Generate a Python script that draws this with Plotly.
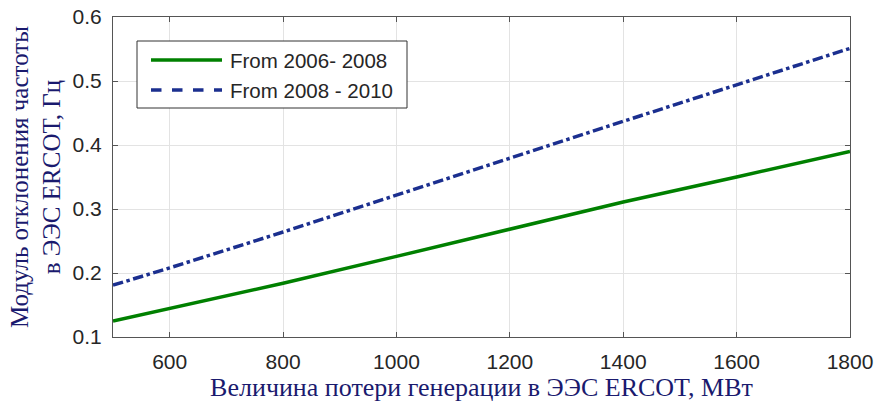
import plotly.graph_objects as go

x_vals = [500, 600, 800, 1000, 1200, 1400, 1600, 1800]
y_2006_2008 = [0.125, 0.145, 0.184, 0.226, 0.269, 0.311, 0.350, 0.390]
y_2008_2010 = [0.181, 0.208, 0.264, 0.322, 0.380, 0.437, 0.494, 0.551]
names = ["From 2006- 2008", "From 2008 - 2010"]
x_ticks = [600, 800, 1000, 1200, 1400, 1600, 1800]
y_ticks = [0.1, 0.2, 0.3, 0.4, 0.5, 0.6]

GREEN = "#008000"
BLUE = "#1b2f8f"

fig = go.Figure()
fig.add_trace(go.Scatter(x=x_vals, y=y_2006_2008, mode="lines", name=names[0],
                         line=dict(color=GREEN, width=3.5)))
fig.add_trace(go.Scatter(x=x_vals, y=y_2008_2010, mode="lines", name=names[1],
                         line=dict(color=BLUE, width=3.5, dash="dashdot")))

axis_common = dict(showline=True, linecolor="#555555", linewidth=1, mirror="ticks",
                   ticks="inside", ticklen=5, tickcolor="#555555", automargin=False,
                   showgrid=True, gridcolor="#e3e3e3", gridwidth=1, zeroline=False,
                   tickfont=dict(family="Liberation Sans, Arial", size=21, color="#262626"))

title_font_x = dict(family="Liberation Serif, Times New Roman", size=26, color="#1a1a6e")
title_font_y = dict(family="Liberation Serif, Times New Roman", size=25, color="#1a1a6e")

# custom legend (paper coords)
def px2x(px):
    return (px - 113) / 737

def py2y(py):
    return (337 - py) / 320

shapes = [
    dict(type="rect", xref="paper", yref="paper", x0=px2x(137), x1=px2x(407),
         y0=py2y(108), y1=py2y(41), line=dict(color="#333333", width=1),
         fillcolor="white", layer="above"),
    dict(type="line", xref="paper", yref="paper", x0=px2x(151), x1=px2x(222),
         y0=py2y(60), y1=py2y(60), line=dict(color=GREEN, width=3.5), layer="above"),
    dict(type="line", xref="paper", yref="paper", x0=px2x(151), x1=px2x(222),
         y0=py2y(90), y1=py2y(90), line=dict(color=BLUE, width=3.5, dash="dash"), layer="above"),
]
annotations = [
    dict(xref="paper", yref="paper", x=px2x(228), y=py2y(60), text=names[0],
         xanchor="left", yanchor="middle", showarrow=False,
         font=dict(family="Liberation Sans, Arial", size=20.5, color="#262626")),
    dict(xref="paper", yref="paper", x=px2x(228), y=py2y(90), text=names[1],
         xanchor="left", yanchor="middle", showarrow=False,
         font=dict(family="Liberation Sans, Arial", size=20.5, color="#262626")),
]

fig.update_layout(
    width=883, height=408,
    margin=dict(l=113, r=33, t=17, b=71),
    paper_bgcolor="white", plot_bgcolor="white",
    xaxis=dict(range=[500, 1800], tickvals=x_ticks, ticklabelstandoff=6,
               title=dict(text="Величина потери генерации в ЭЭС ERCOT, МВт", standoff=2,
                          font=title_font_x),
               **axis_common),
    yaxis=dict(range=[0.1, 0.6], tickvals=y_ticks, tickformat=".1f", ticklabelstandoff=6,
               title=dict(text="Модуль отклонения частоты<br>в ЭЭС ERCOT, Гц", standoff=4,
                          font=title_font_y),
               **axis_common),
    showlegend=False,
    shapes=shapes,
    annotations=annotations,
)

fig.write_html("out.html")
